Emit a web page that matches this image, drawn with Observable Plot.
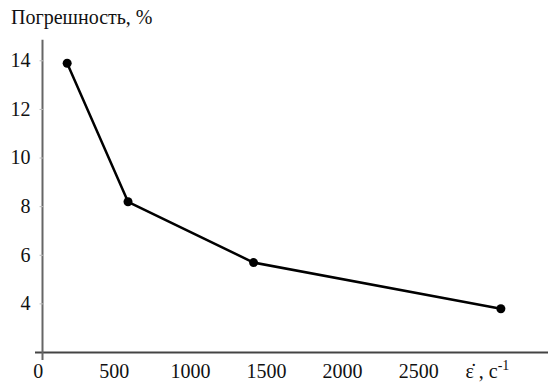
<!DOCTYPE html>
<html>
<head>
<meta charset="utf-8">
<script src="https://cdn.jsdelivr.net/npm/d3@7"></script>
<script src="https://cdn.jsdelivr.net/npm/@observablehq/plot@0.6"></script>
<style>
  html, body { margin: 0; padding: 0; background: #fff; }
  #chart { position: relative; width: 548px; height: 385px; }
  #chart svg { position: absolute; left: 0; top: 0; }
</style>
</head>
<body>
<div id="chart"><div id="title" style="position:absolute;left:11px;top:6px;font-family:'Liberation Serif',serif !important;font-size:20px;color:#111">Погрешность, %</div></div>
<script>
const strainRate = [190, 590, 1415, 3040];
const errorPct = [13.9, 8.2, 5.7, 3.8];
const xTicks = [0, 500, 1000, 1500, 2000, 2500];
const yTicks = [4, 6, 8, 10, 12, 14];
const xAxisLabel = "ε̇ , с";
const xAxisLabelSup = "-1";

const data = strainRate.map((x, i) => ({x, y: errorPct[i]}));
const font = "'Liberation Serif', serif";

const plot = Plot.plot({
  width: 548,
  height: 385,
  marginLeft: 35,
  marginRight: 0,
  marginTop: 36,
  marginBottom: 33,
  style: {fontFamily: font, fontSize: "20px", background: "transparent", color: "#111"},
  x: {type: "linear", domain: [-18, 3353], axis: null},
  y: {type: "linear", domain: [2, 15], axis: null},
  marks: [
    Plot.ruleY([2], {stroke: "#444", strokeWidth: 2}),
    Plot.ruleX([28], {y1: 14.85, y2: 1.67, stroke: "#666", strokeWidth: 2}),
    Plot.ruleY(yTicks, {y: d => d, x1: 12, x2: 38, stroke: "#bbb", strokeWidth: 1}),
    Plot.text(yTicks, {x: 28, y: d => d, text: d => String(d), textAnchor: "end", dx: -12, fontSize: 20, fill: "#111"}),
    Plot.text(xTicks, {x: d => d, y: 2, text: d => String(d), dy: 19, fontSize: 20, fill: "#111"}),
    Plot.line(data, {x: "x", y: "y", stroke: "#000", strokeWidth: 2.5}),
    Plot.dot(data, {x: "x", y: "y", r: 4.5, fill: "#000", stroke: "none"})
  ]
});
document.getElementById("chart").appendChild(plot);

// x-axis unit label at the right end, placed via the x scale
const xs = plot.scale("x"), ys = plot.scale("y");
const svg = d3.select(plot);
const lab = svg.append("text")
  .attr("x", xs.apply(3040) - 13)
  .attr("y", ys.apply(2) + 26)
  .attr("font-size", 20)
  .attr("fill", "#111");
lab.append("tspan").text(xAxisLabel);
lab.append("tspan").attr("dy", -8).attr("font-size", 14).text(xAxisLabelSup);
svg.selectAll("text, tspan").style("font-family", font, "important");
</script>
</body>
</html>
